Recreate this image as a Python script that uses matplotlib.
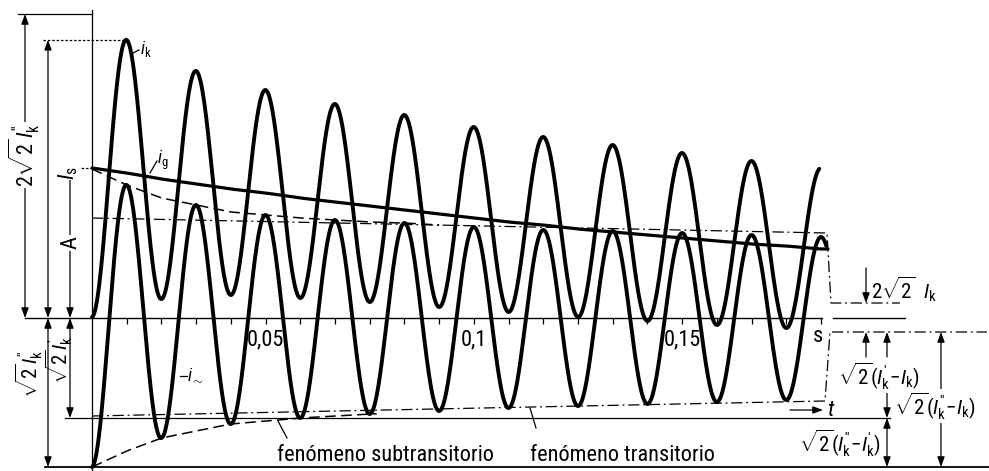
import numpy as np
import matplotlib
matplotlib.use("Agg")
import matplotlib.pyplot as plt
from matplotlib import font_manager

# ---------------- data ----------------
# 60 Hz network; one sample per half period (1/120 s)
half_periods = np.arange(22)
# amplitude of the symmetrical a.c. component i~ at each half period
iac_amplitude = np.array([1.49, 1.33, 1.20, 1.13, 1.06, 1.03, 1.00, 0.98, 0.96, 0.95, 0.93,
                          0.91, 0.90, 0.88, 0.88, 0.87, 0.86, 0.85, 0.84, 0.83, 0.82, 0.81])
# d.c. component i_g at each half period
idc_values = np.array([1.50, 1.45, 1.39, 1.34, 1.29, 1.25, 1.20, 1.16, 1.12, 1.08, 1.04,
                       1.00, 0.96, 0.93, 0.89, 0.86, 0.83, 0.80, 0.77, 0.74, 0.72, 0.69])
# transient envelope (dash-dot) start / end values
transient_upper = [1.00, 0.85]
transient_lower = [-0.98, -0.83]
steady_upper = 0.15
steady_lower = -0.14
ik_prime_level = -1.00      # -sqrt2 I'k
top_level = 3.04            # 2 sqrt2 I''k
tick_halfperiods = np.arange(1, 22)
tick_text = {5: "0,05", 11: "0,1", 17: "0,15"}
FREQ_HALF = 120.0           # half periods per second

# ---------------- fonts ----------------
avail = {f.name for f in font_manager.fontManager.ttflist}
FONT = "DejaVu Sans"
for cand in ["Liberation Sans Narrow", "DejaVu Sans Condensed", "Roboto Condensed", "Liberation Sans"]:
    if cand in avail:
        FONT = cand
        break
sc = 1.0 if ("Narrow" in FONT or "Condensed" in FONT) else 0.85
plt.rcParams["font.family"] = [FONT, "DejaVu Sans"]
plt.rcParams["mathtext.fontset"] = "custom"
plt.rcParams["mathtext.rm"] = FONT
plt.rcParams["mathtext.sf"] = FONT
plt.rcParams["mathtext.it"] = FONT + ":italic"
plt.rcParams["mathtext.bf"] = FONT + ":bold"

BIG = 16 * sc
MID = 15 * sc
SMALL = 13 * sc

# ---------------- layout helpers (pixel -> data) ----------------
W, H = 989, 471
PX0, PXS = 92.0, 4166.0     # pixel of t=0, pixels per second
PY0, PYS = 318.0, 100.0     # pixel of zero current, pixels per unit


def tx(px):
    return (px - PX0) / PXS


def vy(py):
    return (PY0 - py) / PYS


fig = plt.figure(figsize=(W / 100, H / 100), dpi=100)
ax = fig.add_axes([0, 0, 1, 1])
ax.set_xlim(tx(0), tx(W))
ax.set_ylim(vy(H), vy(0))
for s in ["top", "left", "right"]:
    ax.spines[s].set_visible(False)
ax.yaxis.set_visible(False)

K = "black"
THIN = 0.9

# ---------------- curves ----------------
n_k = np.linspace(0, 20.95, 4000)
n_ac = np.linspace(0, 21.15, 4000)
n_g = np.linspace(0, 21.2, 400)


def amp(n):
    return np.interp(n, half_periods, iac_amplitude)


def dc(n):
    return np.interp(n, half_periods, idc_values)


i_ac = -amp(n_ac) * np.cos(np.pi * n_ac)
i_k = dc(n_k) - amp(n_k) * np.cos(np.pi * n_k)

ax.plot(n_k / FREQ_HALF, i_k, color=K, lw=2.8, solid_capstyle="round", zorder=5)
ax.plot(n_ac / FREQ_HALF, i_ac, color=K, lw=2.8, solid_capstyle="round", zorder=5)
ax.plot(n_g / FREQ_HALF, dc(n_g), color=K, lw=2.3, solid_capstyle="round", zorder=5)

# subtransient envelope (dashed)
n_up = np.linspace(0, 10, 200)
n_lo = np.linspace(0, 8.2, 200)
ax.plot(n_up / FREQ_HALF, amp(n_up), color=K, lw=1.1, ls=(0, (7, 3.5)), zorder=3)
ax.plot(n_lo / FREQ_HALF, -amp(n_lo), color=K, lw=1.1, ls=(0, (7, 3.5)), zorder=3)

# transient envelope (dash-dot) with its run-out to the steady state
DD = (0, (9, 3, 1.5, 3))
ax.plot([0, tx(827), tx(831), tx(900)],
        [transient_upper[0], transient_upper[1], steady_upper, steady_upper],
        color=K, lw=THIN, ls=DD, zorder=3)
ax.plot([0, tx(825), tx(830), tx(987)],
        [transient_lower[0], transient_lower[1], steady_lower, steady_lower],
        color=K, lw=THIN, ls=DD, zorder=3)

# ---------------- time axis ----------------
ax.spines["bottom"].set_position(("data", 0))
ax.spines["bottom"].set_bounds(tx(25), tx(822))
ax.spines["bottom"].set_linewidth(1.0)
ax.set_xticks(tick_halfperiods / FREQ_HALF)
ax.set_xticklabels([tick_text.get(int(n), "") for n in tick_halfperiods], fontsize=BIG)
ax.tick_params(axis="x", direction="out", length=4, width=0.9, pad=4)
ax.text(tx(818), vy(337), "s", fontsize=BIG, ha="center", va="center")
ax.plot([tx(833), tx(905)], [0, 0], color=K, lw=1.0)

# t-arrow
ax.annotate("", xy=(tx(823), vy(410)), xytext=(tx(790), vy(410)),
            arrowprops=dict(arrowstyle="-|>,head_length=0.6,head_width=0.22", lw=THIN,
                            color=K, shrinkA=0, shrinkB=0, mutation_scale=10))
ax.text(tx(827), vy(410), "$t$", fontsize=BIG, ha="left", va="center")

# ---------------- reference lines ----------------
I_s = i_k.max()
ax.plot([0, 0], [vy(10), vy(470)], color=K, lw=THIN)                     # t = 0
ax.plot([tx(18), 0], [top_level, top_level], color=K, lw=THIN)          # 2 sqrt2 I''k
ax.plot([tx(43), tx(127)], [I_s, I_s], color=K, lw=THIN, ls=(0, (2, 1.5)))
ax.plot([tx(68), 0], [idc_values[0], idc_values[0]], color=K, lw=THIN, ls=(0, (2, 1.5)))
ax.plot([tx(65), tx(890)], [ik_prime_level, ik_prime_level], color=K, lw=THIN)
ax.plot([tx(45), tx(989)], [-iac_amplitude[0], -iac_amplitude[0]], color=K, lw=1.3)


def arrow(xpx, y0, y1, style="<|-|>"):
    ax.annotate("", xy=(tx(xpx), y1), xytext=(tx(xpx), y0),
                arrowprops=dict(arrowstyle=style + ",head_length=0.6,head_width=0.22",
                                lw=THIN, color=K, shrinkA=0, shrinkB=0,
                                mutation_scale=10), zorder=4)


WB = dict(facecolor="white", edgecolor="none", pad=1.0)
I2 = "I^{\\prime\\prime}_{\\mathrm{k}}"
I1 = "I^{\\prime}_{\\mathrm{k}}"
IK = "I_{\\mathrm{k}}"

# left dimensions
arrow(25, 0, top_level)
ax.text(tx(24), vy(155), "$2\\sqrt{2}\\," + I2 + "$", rotation=90, fontsize=BIG,
        ha="center", va="center", bbox=WB, zorder=6)
arrow(48, 0, I_s)
arrow(70, 0, idc_values[0])
ax.text(tx(68), vy(173), "$I_\\mathrm{s}$", rotation=90, fontsize=BIG,
        ha="center", va="center", bbox=dict(facecolor="white", edgecolor="none", pad=0.3),
        zorder=6)
ax.text(tx(71), vy(243), "A", rotation=90, fontsize=BIG,
        ha="center", va="center", bbox=WB, zorder=6)
arrow(48, 0, -iac_amplitude[0])
ax.text(tx(29), vy(374), "$\\sqrt{2}\\," + I2 + "$", rotation=90, fontsize=MID,
        ha="center", va="center", zorder=6)
arrow(70, 0, ik_prime_level)
ax.text(tx(59), vy(360), "$\\sqrt{2}\\," + I1 + "$", rotation=90, fontsize=MID,
        ha="center", va="center", zorder=6)

# right dimensions
arrow(866, vy(268), steady_upper, "-|>")
arrow(866, vy(357), steady_lower, "-|>")
ax.text(tx(871), vy(289), "$2\\sqrt{2}\\ \\ " + IK + "$", fontsize=MID,
        ha="left", va="center")
arrow(887, vy(357), steady_lower, "-|>")
arrow(887, vy(393), ik_prime_level, "-|>")
ax.text(tx(838), vy(376), "$\\sqrt{2}(" + I1 + "\\!-\\!" + IK + ")$", fontsize=MID,
        ha="left", va="center", bbox=WB, zorder=6)
arrow(887, ik_prime_level, -iac_amplitude[0])
ax.text(tx(881), vy(443), "$\\sqrt{2}(" + I2 + "\\!-\\!" + I1 + ")$", fontsize=MID,
        ha="right", va="center", zorder=6)
arrow(941, steady_lower, -iac_amplitude[0])
ax.text(tx(894), vy(406), "$\\sqrt{2}(" + I2 + "\\!-\\!" + IK + ")$", fontsize=MID,
        ha="left", va="center", bbox=WB, zorder=6)

# curve labels with leaders
ax.plot([tx(133), tx(139)], [vy(53), vy(50)], color=K, lw=THIN)
ax.text(tx(140), vy(49), "$i_\\mathrm{k}$", fontsize=SMALL, ha="left", va="center")
ax.plot([tx(150), tx(157)], [vy(173), vy(161)], color=K, lw=THIN)
ax.text(tx(157), vy(160), "$i_\\mathrm{g}$", fontsize=SMALL, ha="left", va="center")
ax.plot([tx(180), tx(187)], [vy(376), vy(376)], color=K, lw=THIN)
ax.text(tx(187), vy(375), "$i_{\\sim}$", fontsize=SMALL, ha="left", va="center")

ax.plot([tx(278), tx(287)], [vy(421), vy(438)], color=K, lw=THIN)
ax.text(tx(277), vy(461), "fenómeno subtransitorio", fontsize=BIG, ha="left", va="baseline")
ax.plot([tx(530), tx(536)], [vy(408), vy(428)], color=K, lw=THIN)
ax.text(tx(530), vy(461), "fenómeno transitorio", fontsize=BIG, ha="left", va="baseline")

fig.savefig("out.png", dpi=100, facecolor="white")
